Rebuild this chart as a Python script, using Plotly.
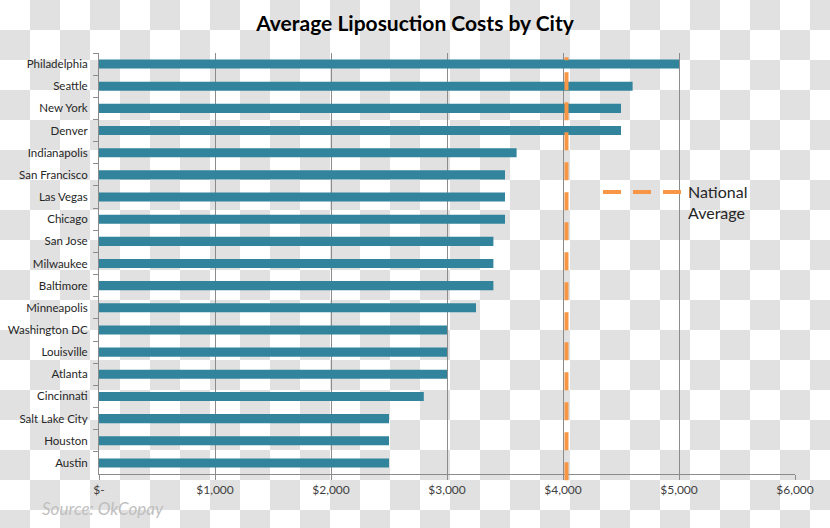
import base64
import plotly.graph_objects as go

cities = ["Philadelphia", "Seattle", "New York", "Denver", "Indianapolis",
          "San Francisco", "Las Vegas", "Chicago", "San Jose", "Milwaukee",
          "Baltimore", "Minneapolis", "Washington DC", "Louisville", "Atlanta",
          "Cincinnati", "Salt Lake City", "Houston", "Austin"]
costs = [5000, 4600, 4500, 4500, 3600, 3500, 3500, 3500, 3400, 3400,
         3400, 3250, 3000, 3000, 3000, 2800, 2500, 2500, 2500]
national_average = 4030
tick_values = [0, 1000, 2000, 3000, 4000, 5000, 6000]
tick_labels = ["$-", "$1,000", "$2,000", "$3,000", "$4,000", "$5,000", "$6,000"]

W, H = 830, 528
ML, MR, MT, MB = 99, 35, 53, 54
PW, PH = W - ML - MR, H - MT - MB

FONT = "Lato"
BAR = "#31849B"
ORANGE = "#F79646"
GRID = "#8c8c8c"

svg = (
    "<svg xmlns='http://www.w3.org/2000/svg' width='%d' height='%d'>"
    "<defs><pattern id='p' width='60' height='60' patternUnits='userSpaceOnUse'>"
    "<rect width='60' height='60' fill='#ffffff'/>"
    "<rect x='30' y='0' width='30' height='30' fill='#e1e1e1'/>"
    "<rect x='0' y='30' width='30' height='30' fill='#e1e1e1'/>"
    "</pattern></defs><rect width='%d' height='%d' fill='url(#p)'/></svg>"
) % (W, H, W, H)
uri = "data:image/svg+xml;base64," + base64.b64encode(svg.encode()).decode()

fig = go.Figure()
fig.add_trace(go.Bar(
    x=costs, y=cities, orientation="h", marker=dict(color=BAR, line=dict(width=0)),
    showlegend=False, hoverinfo="x+y",
))

fig.add_shape(
    type="line", xref="x", yref="paper", x0=national_average, x1=national_average,
    y0=-0.015, y1=0.99, line=dict(color=ORANGE, width=4, dash="18px,12px"),
    showlegend=True, name="National<br>Average",
)

fig.update_layout(
    width=W, height=H,
    margin=dict(l=ML, r=MR, t=MT, b=MB),
    paper_bgcolor="white",
    plot_bgcolor="rgba(0,0,0,0)",
    bargap=0.59,
    font=dict(family=FONT, size=12, color="#262626"),
    title=dict(text="<b>Average Liposuction Costs by City</b>", x=0.5, xanchor="center",
               y=1 - 24 / H, yanchor="middle",
               font=dict(family=FONT, size=21, color="#000000")),
    images=[dict(source=uri, xref="paper", yref="paper",
                 x=-ML / PW, y=(PH + MT) / PH, sizex=W / PW, sizey=H / PH,
                 xanchor="left", yanchor="top", sizing="stretch", layer="below")],
    legend=dict(x=(598 - ML) / PW, y=(H - MB - 175) / PH, xanchor="left", yanchor="top",
                bgcolor="rgba(0,0,0,0)", font=dict(family=FONT, size=16, color="#262626"),
                valign="top", itemwidth=80),
    xaxis=dict(range=[0, 6000], tickvals=tick_values, ticktext=tick_labels,
               showgrid=True, gridcolor=GRID, gridwidth=1,
               showline=True, linecolor=GRID, linewidth=1,
               ticks="outside", ticklen=5, tickcolor=GRID,
               tickfont=dict(family=FONT, size=12, color="#404040"),
               zeroline=False, fixedrange=True, automargin=False),
    yaxis=dict(autorange="reversed", showline=True, linecolor=GRID, linewidth=1,
               ticks="outside", ticklen=5, tickcolor=GRID, tickson="boundaries",
               ticklabelstandoff=8, automargin=False,
               tickfont=dict(family=FONT, size=11.5, color="#262626"),
               showgrid=False, fixedrange=True),
    annotations=[dict(text="<i>Source: OkCopay</i>", xref="paper", yref="paper",
                      x=(40 - ML) / PW, y=(H - MB - 508) / PH, xanchor="left", yanchor="middle",
                      showarrow=False, font=dict(family=FONT, size=17, color="#bfbfbf"))],
)

fig.write_html("out.html", config={"displayModeBar": False},
               post_script="document.body.style.margin='0';")
